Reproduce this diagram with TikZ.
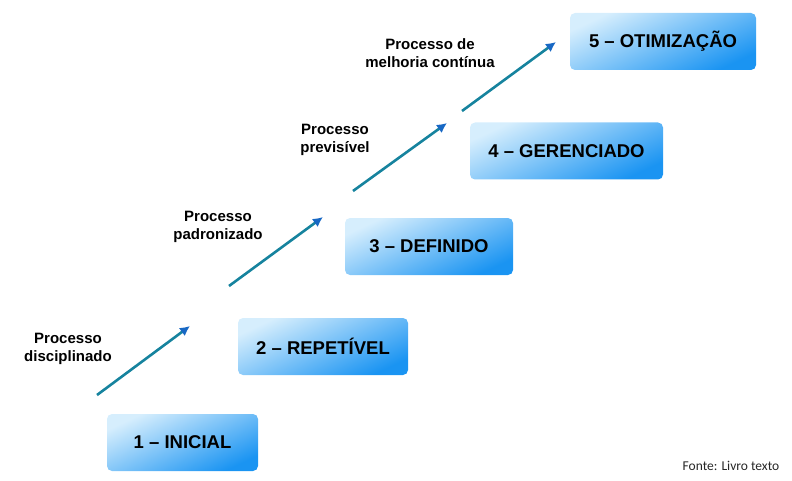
\documentclass[tikz,border=0pt]{standalone}
\usepackage{fontspec}
\setmainfont{Liberation Sans}
\newfontfamily\fontefont{Carlito}
\usetikzlibrary{arrows.meta}
\definecolor{boxblue}{HTML}{1A94F2}
\definecolor{boxtop}{HTML}{D6EEFD}
\definecolor{boxmid}{HTML}{FFFFFF}
\definecolor{arrowc}{HTML}{16839E}
\definecolor{tipc}{HTML}{1868C4}
\tikzset{
  stage/.style={rounded corners=5pt, minimum height=57pt, inner sep=0pt,
    top color=boxtop, middle color=boxmid, bottom color=boxblue, shading angle=25,
    font=\fontsize{18.5}{20}\selectfont\bfseries, text=black},
  lab/.style={align=center, font=\fontsize{15}{18}\selectfont\bfseries, text=black},
  stair/.style={draw=arrowc, line width=2.6pt, -{Latex[length=10pt,width=10pt,color=tipc]}},
}
\begin{document}
\begin{tikzpicture}[x=1pt,y=-1pt]
\useasboundingbox (0,0) rectangle (792,481);
\node[stage, minimum width=151pt] (s1) at (182.5,442.5) {1 -- INICIAL};
\node[stage, minimum width=170pt] (s2) at (323,346.5) {2 -- REPETÍVEL};
\node[stage, minimum width=168pt] (s3) at (429,246.5) {3 -- DEFINIDO};
\node[stage, minimum width=193pt] (s4) at (566.5,151) {4 -- GERENCIADO};
\node[stage, minimum width=186pt] (s5) at (663,41.5) {5 -- OTIMIZAÇÃO};

\coordinate (a1) at (97,395); \coordinate (b1) at (190,326);
\coordinate (a2) at (229,286); \coordinate (b2) at (323,217);
\coordinate (a3) at (353,191); \coordinate (b3) at (447,123);
\coordinate (a4) at (462,111); \coordinate (b4) at (556,42);
\draw[stair] (a1) -- (b1);
\draw[stair] (a2) -- (b2);
\draw[stair] (a3) -- (b3);
\draw[stair] (a4) -- (b4);

\node[lab] (l1) at (68,349) {Processo\\disciplinado};
\node[lab] (l2) at (218,226.5) {Processo\\padronizado};
\node[lab] (l3) at (335,140) {Processo\\previsível};
\node[lab] (l4) at (430,53) {Processo de\\melhoria contínua};

\node[font=\fontefont\fontsize{13.5}{16}\selectfont, text=black!85] (f) at (731,466) {Fonte: Livro texto};
\end{tikzpicture}
\end{document}
